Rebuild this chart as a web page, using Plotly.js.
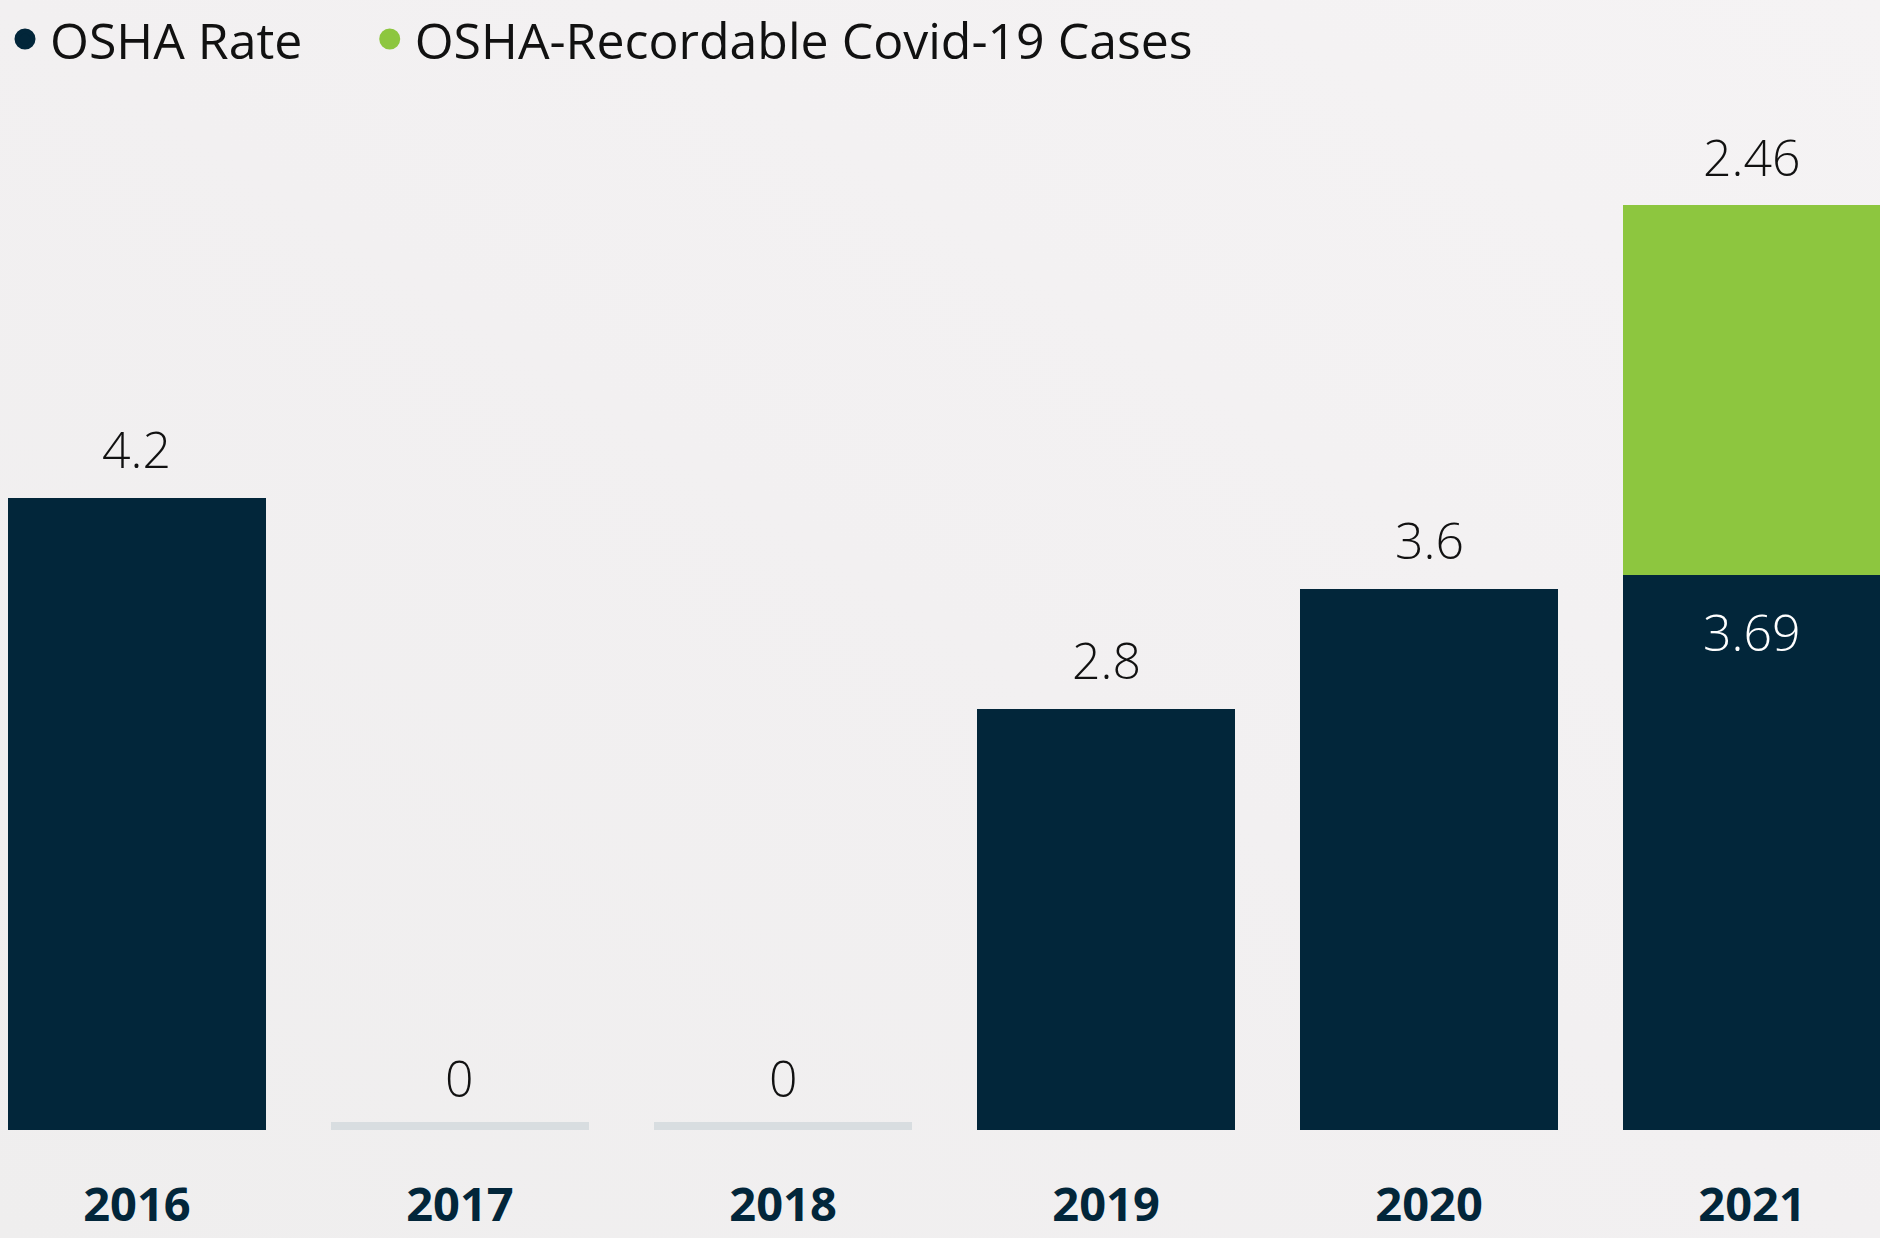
<!DOCTYPE html>
<html>
<head>
<meta charset="utf-8">
<script src="https://cdn.plot.ly/plotly-3.0.1.min.js"></script>
<style>
  html, body { margin: 0; padding: 0; }
  body { width: 1880px; height: 1238px; background: linear-gradient(to top right, #efeeee 0%, #f2f0f1 50%, #f5f3f4 100%); }
  #chart { width: 1880px; height: 1238px; }
</style>
</head>
<body>
<div id="chart"></div>
<script>
// ---- data ----
const years = ['2016', '2017', '2018', '2019', '2020', '2021'];
const oshaRate = [4.2, 0, 0, 2.8, 3.6, 3.69];
const covidCases = [null, null, null, null, null, 2.46];
const seriesNames = ['OSHA Rate', 'OSHA-Recordable Covid-19 Cases'];

// ---- style ----
const NAVY = '#02263a';
const GREEN = '#8dc63f';
const ZERO_GRAY = '#d8dde0';
const ZERO_BAR_HEIGHT = 0.055; // visual placeholder for zero-valued years
const LABEL_FONT = { family: 'Open Sans, sans-serif', size: 50, color: '#111111', weight: 300 };

const zeroPlaceholder = oshaRate.map(v => (v === 0 ? ZERO_BAR_HEIGHT : null));

const traces = [
  { type: 'bar', x: years, y: oshaRate, name: seriesNames[0], marker: { color: NAVY }, showlegend: false, hoverinfo: 'x+y' },
  { type: 'bar', x: years, y: zeroPlaceholder, name: 'zero', marker: { color: ZERO_GRAY }, showlegend: false, hoverinfo: 'skip' },
  { type: 'bar', x: years, y: covidCases, name: seriesNames[1], marker: { color: GREEN }, showlegend: false, hoverinfo: 'x+y' },
  // legend entries (circle markers)
  { type: 'scatter', mode: 'markers', x: [null], y: [null], name: seriesNames[0], legend: 'legend', marker: { color: NAVY, size: 16, line: { color: NAVY, width: 5 } }, showlegend: true, hoverinfo: 'skip' },
  { type: 'scatter', mode: 'markers', x: [null], y: [null], name: seriesNames[1], legend: 'legend2', marker: { color: GREEN, size: 16, line: { color: GREEN, width: 5 } }, showlegend: true, hoverinfo: 'skip' }
];

// ---- value labels (category index i on the x axis) ----
const annotations = [];
years.forEach((yr, i) => {
  const o = oshaRate[i];
  const c = covidCases[i];
  if (c !== null && c !== undefined) {
    annotations.push({ x: i, y: o, text: String(o), showarrow: false, yanchor: 'middle', yshift: -57,
      font: Object.assign({}, LABEL_FONT, { color: '#ffffff' }) });
    annotations.push({ x: i, y: o + c, text: String(c), showarrow: false, yanchor: 'middle', yshift: 48, font: LABEL_FONT });
  } else {
    annotations.push({ x: i, y: o, text: String(o), showarrow: false, yanchor: 'middle', yshift: o === 0 ? 52 : 49, font: LABEL_FONT });
  }
});

const legendFont = { family: 'Open Sans, sans-serif', size: 50, color: '#111111' };
const layout = {
  width: 1880,
  height: 1238,
  margin: { l: 0, r: 0, t: 0, b: 108 },
  paper_bgcolor: 'rgba(0,0,0,0)',
  plot_bgcolor: 'rgba(0,0,0,0)',
  barmode: 'stack',
  bargap: 0.2,
  showlegend: true,
  legend: { orientation: 'h', x: 0, xanchor: 'left', y: 1, yanchor: 'top', font: legendFont, itemwidth: 40, bgcolor: 'rgba(0,0,0,0)' },
  legend2: { orientation: 'h', x: 0.194, xanchor: 'left', y: 1, yanchor: 'top', font: legendFont, itemwidth: 40, bgcolor: 'rgba(0,0,0,0)' },
  xaxis: {
    type: 'category',
    range: [-0.424, 5.396],
    showgrid: false, zeroline: false, showline: false, ticks: '',
    ticklabelstandoff: 43,
    tickfont: { family: 'Open Sans, sans-serif', size: 47, color: NAVY, weight: 700 },
    fixedrange: true
  },
  yaxis: {
    range: [0, 7.513],
    visible: false, showgrid: false, zeroline: false, fixedrange: true
  },
  annotations: annotations
};

Plotly.newPlot('chart', traces, layout, { displayModeBar: false, staticPlot: true });
</script>
</body>
</html>
